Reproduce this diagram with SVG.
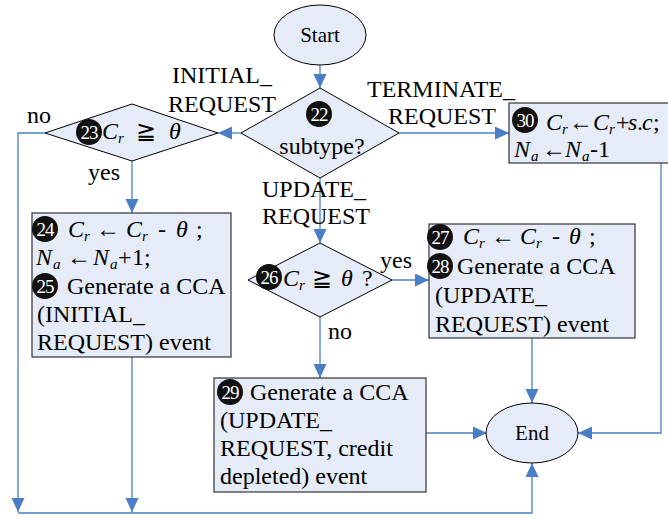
<svg xmlns="http://www.w3.org/2000/svg" width="668" height="518" viewBox="0 0 668 518" font-family="'Liberation Serif', 'Times New Roman', Tinos, 'DejaVu Serif', serif">
<style>
text{font-family:'Liberation Serif','Times New Roman',Tinos,'DejaVu Serif',serif;font-size:24px;fill:#000}
.sm{font-size:21px}
.i{font-style:italic}
.sub{font-style:italic;font-size:15px}
.n{fill:#fff;font-size:19px;text-anchor:middle;letter-spacing:-1px}
.shape{fill:#e6ecf7;stroke:#000;stroke-width:1}
.box{fill:#e6ecf7;stroke:#333;stroke-width:1.2}
.c{fill:none;stroke:#4a7ec6;stroke-width:1.3;marker-end:url(#ah)}
.dot{fill:#111}
</style>
<defs>
<marker id="ah" markerUnits="userSpaceOnUse" markerWidth="15" markerHeight="14" refX="14" refY="6.5" orient="auto">
<path d="M0,0 L14,6.5 L0,13 z" fill="#4a7ec6"/>
</marker>
</defs>

<g id="connectors">
<path class="c" d="M320,65 V88"/>
<path class="c" d="M241,133 H218"/>
<path class="c" d="M399,133 H509"/>
<path class="c" d="M320,178 V243"/>
<path class="c" d="M132,161 V213"/>
<path class="c" d="M45,133 H18 V512"/>
<path class="c" d="M392,280 H429"/>
<path class="c" d="M320,317 V378"/>
<path class="c" d="M532,338 V403"/>
<path class="c" d="M426,433 H487"/>
<path class="c" d="M661,163 V433 H578"/>
<path class="c" d="M132,357 V512"/>
<path class="c" d="M18,513 H532 V463"/>
<text x="172" y="83">INITIAL_</text>
<text x="168" y="112">REQUEST</text>
<text x="367" y="97">TERMINATE_</text>
<text x="388" y="124">REQUEST</text>
<text x="262" y="197">UPDATE_</text>
<text x="262" y="224">REQUEST</text>
<text x="27" y="123">no</text>
<text x="88" y="180">yes</text>
<text x="380" y="268">yes</text>
<text x="328" y="339">no</text>
</g>

<g id="start">
<ellipse class="shape" cx="320" cy="35" rx="46" ry="30"/>
<text class="sm" x="320" y="42" text-anchor="middle">Start</text>
</g>

<g id="n22">
<path class="shape" d="M320,88 L399,133 L320,178 L241,133 Z"/>
<circle class="dot" cx="319" cy="114" r="13"/>
<text class="n" x="319" y="121">22</text>
<text x="322" y="154" text-anchor="middle">subtype?</text>
</g>

<g id="n23">
<path class="shape" d="M132,104 L218,133 L132,161 L45,133 Z"/>
<circle class="dot" cx="89" cy="132" r="13"/>
<text class="n" x="89" y="139">23</text>
<text class="i" x="102" y="139">C</text>
<text class="sub" x="118" y="143">r</text>
<text x="136" y="139">≧</text>
<text class="i" x="169" y="139">θ</text>
</g>

<g id="n30">
<rect class="box" x="509" y="103" width="165" height="60"/>
<circle class="dot" cx="525" cy="120" r="13"/>
<text class="n" x="525" y="127">30</text>
<text class="i" x="546" y="130">C</text>
<text class="sub" x="562" y="134">r</text>
<text x="569" y="130">←</text>
<text class="i" x="593" y="130">C</text>
<text class="sub" x="609" y="134">r</text>
<text x="616" y="130">+</text>
<text class="i" x="628" y="130">s</text>
<text x="637" y="130">.</text>
<text class="i" x="642" y="130">c</text>
<text x="653" y="130">;</text>
<text class="i" x="514" y="157">N</text>
<text class="sub" x="531" y="161">a</text>
<text x="542" y="157">←</text>
<text class="i" x="565" y="157">N</text>
<text class="sub" x="582" y="161">a</text>
<text x="590" y="157">-1</text>
</g>

<g id="n24">
<rect class="box" x="32" y="213" width="199" height="144"/>
<circle class="dot" cx="45" cy="229" r="13"/>
<text class="n" x="45" y="236">24</text>
<text class="i" x="68" y="237">C</text>
<text class="sub" x="84" y="241">r</text>
<text x="96" y="237">←</text>
<text class="i" x="126" y="237">C</text>
<text class="sub" x="142" y="241">r</text>
<text x="158" y="237">-</text>
<text class="i" x="176" y="237">θ</text>
<text x="196" y="237">;</text>
<text class="i" x="36" y="265">N</text>
<text class="sub" x="53" y="269">a</text>
<text x="67" y="265">←</text>
<text class="i" x="93" y="265">N</text>
<text class="sub" x="110" y="269">a</text>
<text x="118" y="265">+</text>
<text x="132" y="265">1;</text>
<circle class="dot" cx="45" cy="286" r="13"/>
<text class="n" x="45" y="293">25</text>
<text x="67" y="294">Generate a CCA</text>
<text x="37" y="322">(INITIAL_</text>
<text x="37" y="350">REQUEST) event</text>
</g>

<g id="n26">
<path class="shape" d="M320,243 L392,280 L320,317 L248,280 Z"/>
<circle class="dot" cx="269" cy="277" r="13"/>
<text class="n" x="269" y="284">26</text>
<text class="i" x="283" y="286">C</text>
<text class="sub" x="299" y="290">r</text>
<text x="312" y="286">≧</text>
<text class="i" x="341" y="286">θ</text>
<text x="362" y="286">?</text>
</g>

<g id="n27">
<rect class="box" x="429" y="224" width="206" height="114"/>
<circle class="dot" cx="440" cy="237" r="13"/>
<text class="n" x="440" y="244">27</text>
<text class="i" x="463" y="244">C</text>
<text class="sub" x="479" y="248">r</text>
<text x="491" y="244">←</text>
<text class="i" x="520" y="244">C</text>
<text class="sub" x="536" y="248">r</text>
<text x="552" y="244">-</text>
<text class="i" x="569" y="244">θ</text>
<text x="589" y="244">;</text>
<circle class="dot" cx="440" cy="266" r="13"/>
<text class="n" x="440" y="273">28</text>
<text x="457" y="274">Generate a CCA</text>
<text x="435" y="303">(UPDATE_</text>
<text x="435" y="332">REQUEST) event</text>
</g>

<g id="n29">
<rect class="box" x="214" y="378" width="212" height="114"/>
<circle class="dot" cx="230" cy="392" r="13"/>
<text class="n" x="230" y="399">29</text>
<text x="250" y="400">Generate a CCA</text>
<text x="220" y="428">(UPDATE_</text>
<text x="220" y="456">REQUEST, credit</text>
<text x="220" y="484">depleted) event</text>
</g>

<g id="end">
<ellipse class="shape" cx="532" cy="433" rx="46" ry="30"/>
<text class="sm" x="532" y="440" text-anchor="middle">End</text>
</g>
</svg>
